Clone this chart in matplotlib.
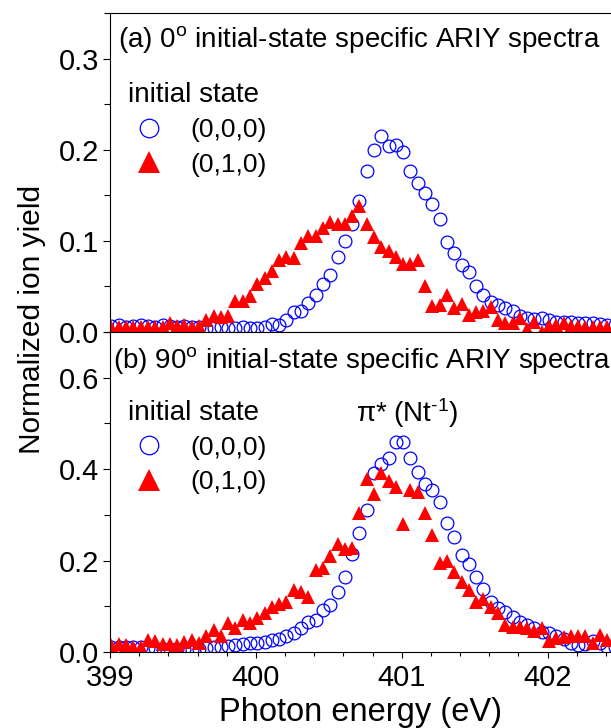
import matplotlib
matplotlib.use('Agg')
import matplotlib.pyplot as plt
from matplotlib.ticker import MultipleLocator, FormatStrFormatter
import numpy as np

plt.rcParams['font.family'] = ['Liberation Sans', 'DejaVu Sans']
plt.rcParams['mathtext.fontset'] = 'custom'
plt.rcParams['mathtext.rm'] = 'Liberation Sans'
plt.rcParams['mathtext.it'] = 'Liberation Sans:italic'
plt.rcParams['axes.linewidth'] = 0.8

# photon energy scan (eV), 0.05 eV steps
e_start = 399.01
e_step = 0.05
energy = np.round(e_start + e_step * np.arange(70), 2)

# (a) 0 deg spectra
top_000 = [0.007, 0.008, 0.006, 0.007, 0.008, 0.007, 0.006, 0.008, 0.007, 0.006,
           0.007, 0.005, 0.006, 0.004, 0.004, 0.005, 0.004, 0.004, 0.005, 0.004,
           0.004, 0.006, 0.009, 0.008, 0.013, 0.022, 0.023, 0.032, 0.041, 0.053,
           0.063, 0.082, 0.100, 0.119, 0.144, 0.177, 0.200, 0.215, 0.204, 0.205,
           0.197, 0.177, 0.163, 0.152, 0.140, 0.124, 0.099, 0.087, 0.073, 0.066,
           0.051, 0.041, 0.033, 0.030, 0.026, 0.023, 0.018, 0.015, 0.014, 0.015,
           0.013, 0.011, 0.011, 0.011, 0.0095, 0.0095, 0.0095, 0.009, 0.008, 0.008]
top_010 = [0.006, 0.006, 0.005, 0.006, 0.006, 0.005, 0.005, 0.006, 0.010, 0.007,
           0.008, 0.006, 0.007, 0.013, 0.018, 0.017, 0.018, 0.034, 0.034, 0.039,
           0.053, 0.059, 0.067, 0.079, 0.082, 0.081, 0.098, 0.105, 0.105, 0.114,
           0.121, 0.119, 0.119, 0.127, 0.138, 0.119, 0.104, 0.093, 0.089, 0.082,
           0.075, 0.075, 0.079, 0.050, 0.028, 0.030, 0.041, 0.026, 0.031, 0.019,
           0.022, 0.023, 0.027, 0.013, 0.010, 0.010, 0.015, 0.003, 0.011, 0.000,
           0.007, 0.008, 0.010, 0.007, 0.007, 0.006, 0.006, 0.006, 0.006, 0.006]

# (b) 90 deg spectra
bot_000 = [0.010, 0.011, 0.010, 0.012, 0.010, 0.009, 0.008, 0.007, 0.006, 0.006,
           0.006, 0.005, 0.006, 0.008, 0.010, 0.012, 0.013, 0.015, 0.018, 0.019,
           0.019, 0.021, 0.026, 0.029, 0.034, 0.041, 0.053, 0.066, 0.070, 0.092,
           0.103, 0.132, 0.164, 0.215, 0.260, 0.310, 0.392, 0.411, 0.424, 0.459,
           0.459, 0.424, 0.393, 0.367, 0.355, 0.328, 0.282, 0.251, 0.213, 0.192,
           0.163, 0.137, 0.110, 0.096, 0.088, 0.077, 0.066, 0.059, 0.052, 0.044,
           0.041, 0.034, 0.028, 0.019, 0.015, 0.018, 0.025, 0.019, 0.012, 0.012]
bot_010 = [0.015, 0.017, 0.015, 0.010, 0.012, 0.026, 0.024, 0.018, 0.018, 0.015,
           0.022, 0.026, 0.020, 0.034, 0.048, 0.034, 0.063, 0.052, 0.069, 0.063,
           0.074, 0.085, 0.098, 0.106, 0.110, 0.136, 0.132, 0.121, 0.179, 0.183,
           0.210, 0.236, 0.225, 0.227, 0.305, 0.378, 0.346, 0.391, 0.373, 0.362,
           0.281, 0.354, 0.351, 0.303, 0.256, 0.194, 0.198, 0.176, 0.154, 0.136,
           0.110, 0.117, 0.099, 0.085, 0.059, 0.055, 0.054, 0.052, 0.047, 0.052,
           0.023, 0.030, 0.032, 0.034, 0.035, 0.034, 0.019, 0.037, 0.026, 0.030]

labels = ['(0,0,0)', '(0,1,0)']
panel_titles = [r'(a) 0$^{\rm o}$ initial-state specific ARIY spectra',
                r'(b) 90$^{\rm o}$ initial-state specific ARIY spectra']

fig = plt.figure(figsize=(6.11, 7.28), dpi=100)
W, H = 611.0, 728.0
ax1 = fig.add_axes([110 / W, 1 - 332 / H, 501 / W, 319 / H])
ax2 = fig.add_axes([110 / W, 1 - 652 / H, 501 / W, 320 / H])


def draw_panel(ax, y000, y010, ylim, ymaj, ymin, title, title_y, title_x, leg_y):
    ax.plot(energy, y000, 'o', ms=9.2, mfc='none', mec='#0000ff', mew=0.9,
            label=labels[0])
    ax.plot(energy, y010, '^', ms=10.5, color='#ff0000', mew=0, label=labels[1])
    ax.set_xlim(399, 402.435)
    ax.set_ylim(*ylim)
    ax.yaxis.set_major_locator(MultipleLocator(ymaj))
    ax.yaxis.set_minor_locator(MultipleLocator(ymin))
    ax.yaxis.set_major_formatter(FormatStrFormatter('%.1f'))
    ax.xaxis.set_major_locator(MultipleLocator(1))
    ax.xaxis.set_major_formatter(FormatStrFormatter('%d'))
    ax.spines['right'].set_visible(False)
    ax.tick_params(which='both', direction='out', width=0.8, labelsize=21, pad=2.5)
    ax.tick_params(axis='y', which='major', length=5)
    ax.tick_params(axis='y', which='minor', length=4)
    ax.tick_params(axis='x', which='major', length=4)
    ax.tick_params(axis='x', which='minor', length=3)
    ax.text(title_x, title_y, title, transform=ax.transAxes, fontsize=20,
            ha='left', va='baseline')
    leg = ax.legend(loc='upper left', bbox_to_anchor=(0.036, leg_y),
                    title='initial state', alignment='left', frameon=False,
                    fontsize=19, title_fontsize=20, markerscale=1.45,
                    handlelength=1.6, handletextpad=0.75, labelspacing=0.4,
                    borderpad=0, borderaxespad=0)
    leg._legend_box.sep = 7
    return leg


draw_panel(ax1, top_000, top_010, (0, 0.35), 0.1, 0.05, panel_titles[0],
           0.893, 0.016, 0.783)
ax1.xaxis.set_minor_locator(MultipleLocator(0.5))
ax1.tick_params(axis='x', labelbottom=False)

draw_panel(ax2, bot_000, bot_010, (0, 0.7), 0.2, 0.1, panel_titles[1],
           0.8875, 0.006, 0.7875)
ax2.xaxis.set_minor_locator(MultipleLocator(0.2))
ax2.tick_params(axis='x', pad=5)
ax2.set_xlabel('Photon energy (eV)', fontsize=23.5, labelpad=3)
ax2.text(0.492, 0.72, r'$\mathrm{\pi}$* (Nt$^{\text{-1}}$)', transform=ax2.transAxes,
         fontsize=20, ha='left', va='baseline')

fig.text(32 / W, 1 - 319 / H, 'Normalized ion yield', rotation=90,
         fontsize=21.5, ha='center', va='center')

fig.savefig('out.png', dpi=100)
